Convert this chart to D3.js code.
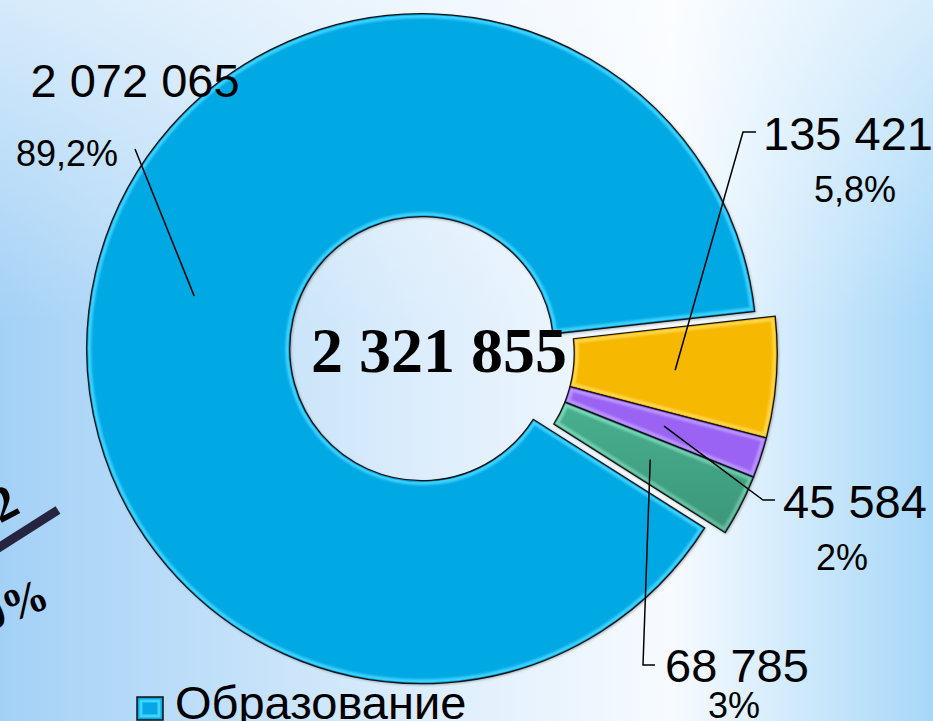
<!DOCTYPE html>
<html>
<head>
<meta charset="utf-8">
<script src="https://cdn.jsdelivr.net/npm/d3@7"></script>
<style>
  body { margin: 0; overflow: hidden; }
  svg { display: block; }
</style>
</head>
<body>
<main></main>
<script>
// data
const categories = ["Образование", "Категория 2", "Категория 3", "Категория 4"];
const values = [2072065, 135421, 45584, 68785];
const percentLabels = ["89,2%", "5,8%", "2%", "3%"];
const colors = ["#05a8e4", "#f6b800", "#9a64f4", "#47b08f"];
const rimColors = ["#40d4ff", "#ffd84f", "#bb98ff", "#7cdcbc"];
const legendLabels = ["Образование"];

// label placement (manual, like the original slide)
const labelLayout = [
	{ value: [135, 97], pct: [67, 166], line: [[135, 149]] },
	{ value: [848, 150], pct: [855, 202], line: [[743, 132], [756, 132]] },
	{ value: [855, 518], pct: [842, 570], line: [[763, 500], [775, 500]] },
	{ value: [737, 682], pct: [734, 718], line: [[643, 665], [655, 665]] },
];

const width = 933;
const height = 721;
const center = { x: 432, y: 351 };
const outerR = 335;
const innerR = 132;
const explode = 10.5;
const groupMid = 103 * Math.PI / 180; // d3 angle of the small-slice group

const svg = d3.select("main")
	.append("svg")
	.attr("width", width)
	.attr("height", height);

const defs = svg.append("defs");

const bgH = defs.append("linearGradient").attr("id", "bgH")
	.attr("x1", 0).attr("x2", 1).attr("y1", 0).attr("y2", 0);
[["0%", "#a3d1f6"], ["45%", "#dcedfc"], ["72%", "#f7fbff"], ["100%", "#a6d7f8"]]
	.forEach(([o, c]) => bgH.append("stop").attr("offset", o).attr("stop-color", c));

const bgV = defs.append("linearGradient").attr("id", "bgV")
	.attr("x1", 0).attr("x2", 0).attr("y1", 0).attr("y2", 1);
bgV.append("stop").attr("offset", "0%").attr("stop-color", "#ffffff").attr("stop-opacity", 0.55);
bgV.append("stop").attr("offset", "45%").attr("stop-color", "#ffffff").attr("stop-opacity", 0);

svg.append("rect").attr("width", width).attr("height", height).attr("fill", "url(#bgH)");
svg.append("rect").attr("width", width).attr("height", height).attr("fill", "url(#bgV)");

const shadow = defs.append("filter").attr("id", "shadow")
	.attr("x", "-10%").attr("y", "-10%").attr("width", "120%").attr("height", "120%");
shadow.append("feGaussianBlur").attr("in", "SourceAlpha").attr("stdDeviation", 1.5);
shadow.append("feOffset").attr("dx", 1).attr("dy", 1).attr("result", "off");
shadow.append("feComponentTransfer").append("feFuncA").attr("type", "linear").attr("slope", 0.4);
const sm = shadow.append("feMerge");
sm.append("feMergeNode");
sm.append("feMergeNode").attr("in", "SourceGraphic");

const soft = defs.append("filter").attr("id", "soft");
soft.append("feGaussianBlur").attr("stdDeviation", 0.8);

// left edge fragments of another slide element
svg.append("line")
	.attr("x1", -5).attr("y1", 550).attr("x2", 58).attr("y2", 510)
	.attr("stroke", "#25253f").attr("stroke-width", 9);
svg.append("text")
	.attr("transform", "translate(22,512) rotate(-28)")
	.attr("text-anchor", "end")
	.style("font", "bold 50px 'Liberation Serif'")
	.text("2");
svg.append("text")
	.attr("transform", "translate(52,606) rotate(-22)")
	.attr("text-anchor", "end")
	.style("font", "bold 46px 'Liberation Serif'")
	.text("0%");

// pie
const blueShare = values[0] / d3.sum(values);
const smallSpan = 2 * Math.PI * (1 - blueShare);
const start = groupMid + smallSpan / 2;

const pie = d3.pie().sort(null).value(d => d)
	.startAngle(start).endAngle(start + 2 * Math.PI);
const arcs = pie(values);

const arc = d3.arc().innerRadius(innerR).outerRadius(outerR);

const offsetOf = i => {
	const a = i === 0 ? groupMid + Math.PI : groupMid;
	return [Math.sin(a) * explode, -Math.cos(a) * explode];
};

const chart = svg.append("g")
	.attr("transform", `translate(${center.x},${center.y})`);

const slices = chart.selectAll("g.slice")
	.data(arcs)
	.join("g")
	.attr("class", "slice")
	.attr("transform", (d, i) => `translate(${offsetOf(i)})`);

slices.each(function(d, i) {
	defs.append("clipPath").attr("id", "clip" + i)
		.append("path").attr("d", arc(d));
});

slices.append("path")
	.attr("d", arc)
	.attr("fill", (d, i) => colors[i])
	.attr("filter", "url(#shadow)");

// bevel: light band just inside the edge, dark line at the edge
slices.append("path")
	.attr("d", arc)
	.attr("fill", "none")
	.attr("stroke", (d, i) => rimColors[i])
	.attr("stroke-width", 9)
	.attr("stroke-opacity", 0.95)
	.attr("filter", "url(#soft)")
	.attr("clip-path", (d, i) => `url(#clip${i})`);

slices.append("path")
	.attr("d", arc)
	.attr("fill", "none")
	.attr("stroke", (d, i) => colors[i])
	.attr("stroke-width", 3)
	.attr("clip-path", (d, i) => `url(#clip${i})`);

slices.append("path")
	.attr("d", arc)
	.attr("fill", "none")
	.attr("stroke", "#111")
	.attr("stroke-width", 1.3);

// green slice gets darker toward the bottom
const gGrad = defs.append("linearGradient").attr("id", "greenShade")
	.attr("x1", 0).attr("x2", 0).attr("y1", 0).attr("y2", 1);
gGrad.append("stop").attr("offset", "0%").attr("stop-color", "#000").attr("stop-opacity", 0);
gGrad.append("stop").attr("offset", "100%").attr("stop-color", "#000").attr("stop-opacity", 0.15);
slices.filter((d, i) => i === 3).append("path")
	.attr("d", arc)
	.attr("fill", "url(#greenShade)");

// total in the hole
const fmt = d3.formatLocale({ decimal: ",", thousands: " ", grouping: [3], currency: ["", ""] }).format(",");

chart.append("text")
	.attr("x", 7)
	.attr("y", 21)
	.attr("text-anchor", "middle")
	.style("font", "bold 64px 'Liberation Serif'")
	.text(fmt(d3.sum(values)));

// leader lines and labels
arcs.forEach((d, i) => {
	const off = offsetOf(i);
	const c = arc.centroid(d);
	const p0 = [center.x + off[0] + c[0], center.y + off[1] + c[1]];
	const pts = [p0, ...labelLayout[i].line];
	svg.append("path")
		.attr("d", d3.line()(pts))
		.attr("fill", "none")
		.attr("stroke", "#000")
		.attr("stroke-width", 1.5);

	svg.append("text")
		.attr("x", labelLayout[i].value[0])
		.attr("y", labelLayout[i].value[1])
		.attr("text-anchor", "middle")
		.style("font", "47px 'Liberation Sans'")
		.text(fmt(values[i]));

	svg.append("text")
		.attr("x", labelLayout[i].pct[0])
		.attr("y", labelLayout[i].pct[1])
		.attr("text-anchor", "middle")
		.style("font", "36px 'Liberation Sans'")
		.text(percentLabels[i]);
});

// legend
const legend = svg.append("g").attr("transform", "translate(137,697)");
legend.selectAll("rect.key")
	.data(legendLabels)
	.join("rect")
	.attr("class", "key")
	.attr("width", 26).attr("height", 23)
	.attr("fill", colors[0])
	.attr("stroke", "#111")
	.attr("stroke-width", 1.5);
legend.append("rect")
	.attr("x", 4).attr("y", 4).attr("width", 18).attr("height", 15)
	.attr("fill", "none")
	.attr("stroke", rimColors[0])
	.attr("stroke-width", 3);
legend.selectAll("text.name")
	.data(legendLabels)
	.join("text")
	.attr("class", "name")
	.attr("x", 38)
	.attr("y", 22)
	.style("font", "47px 'Liberation Sans'")
	.text(d => d);
</script>
</body>
</html>
